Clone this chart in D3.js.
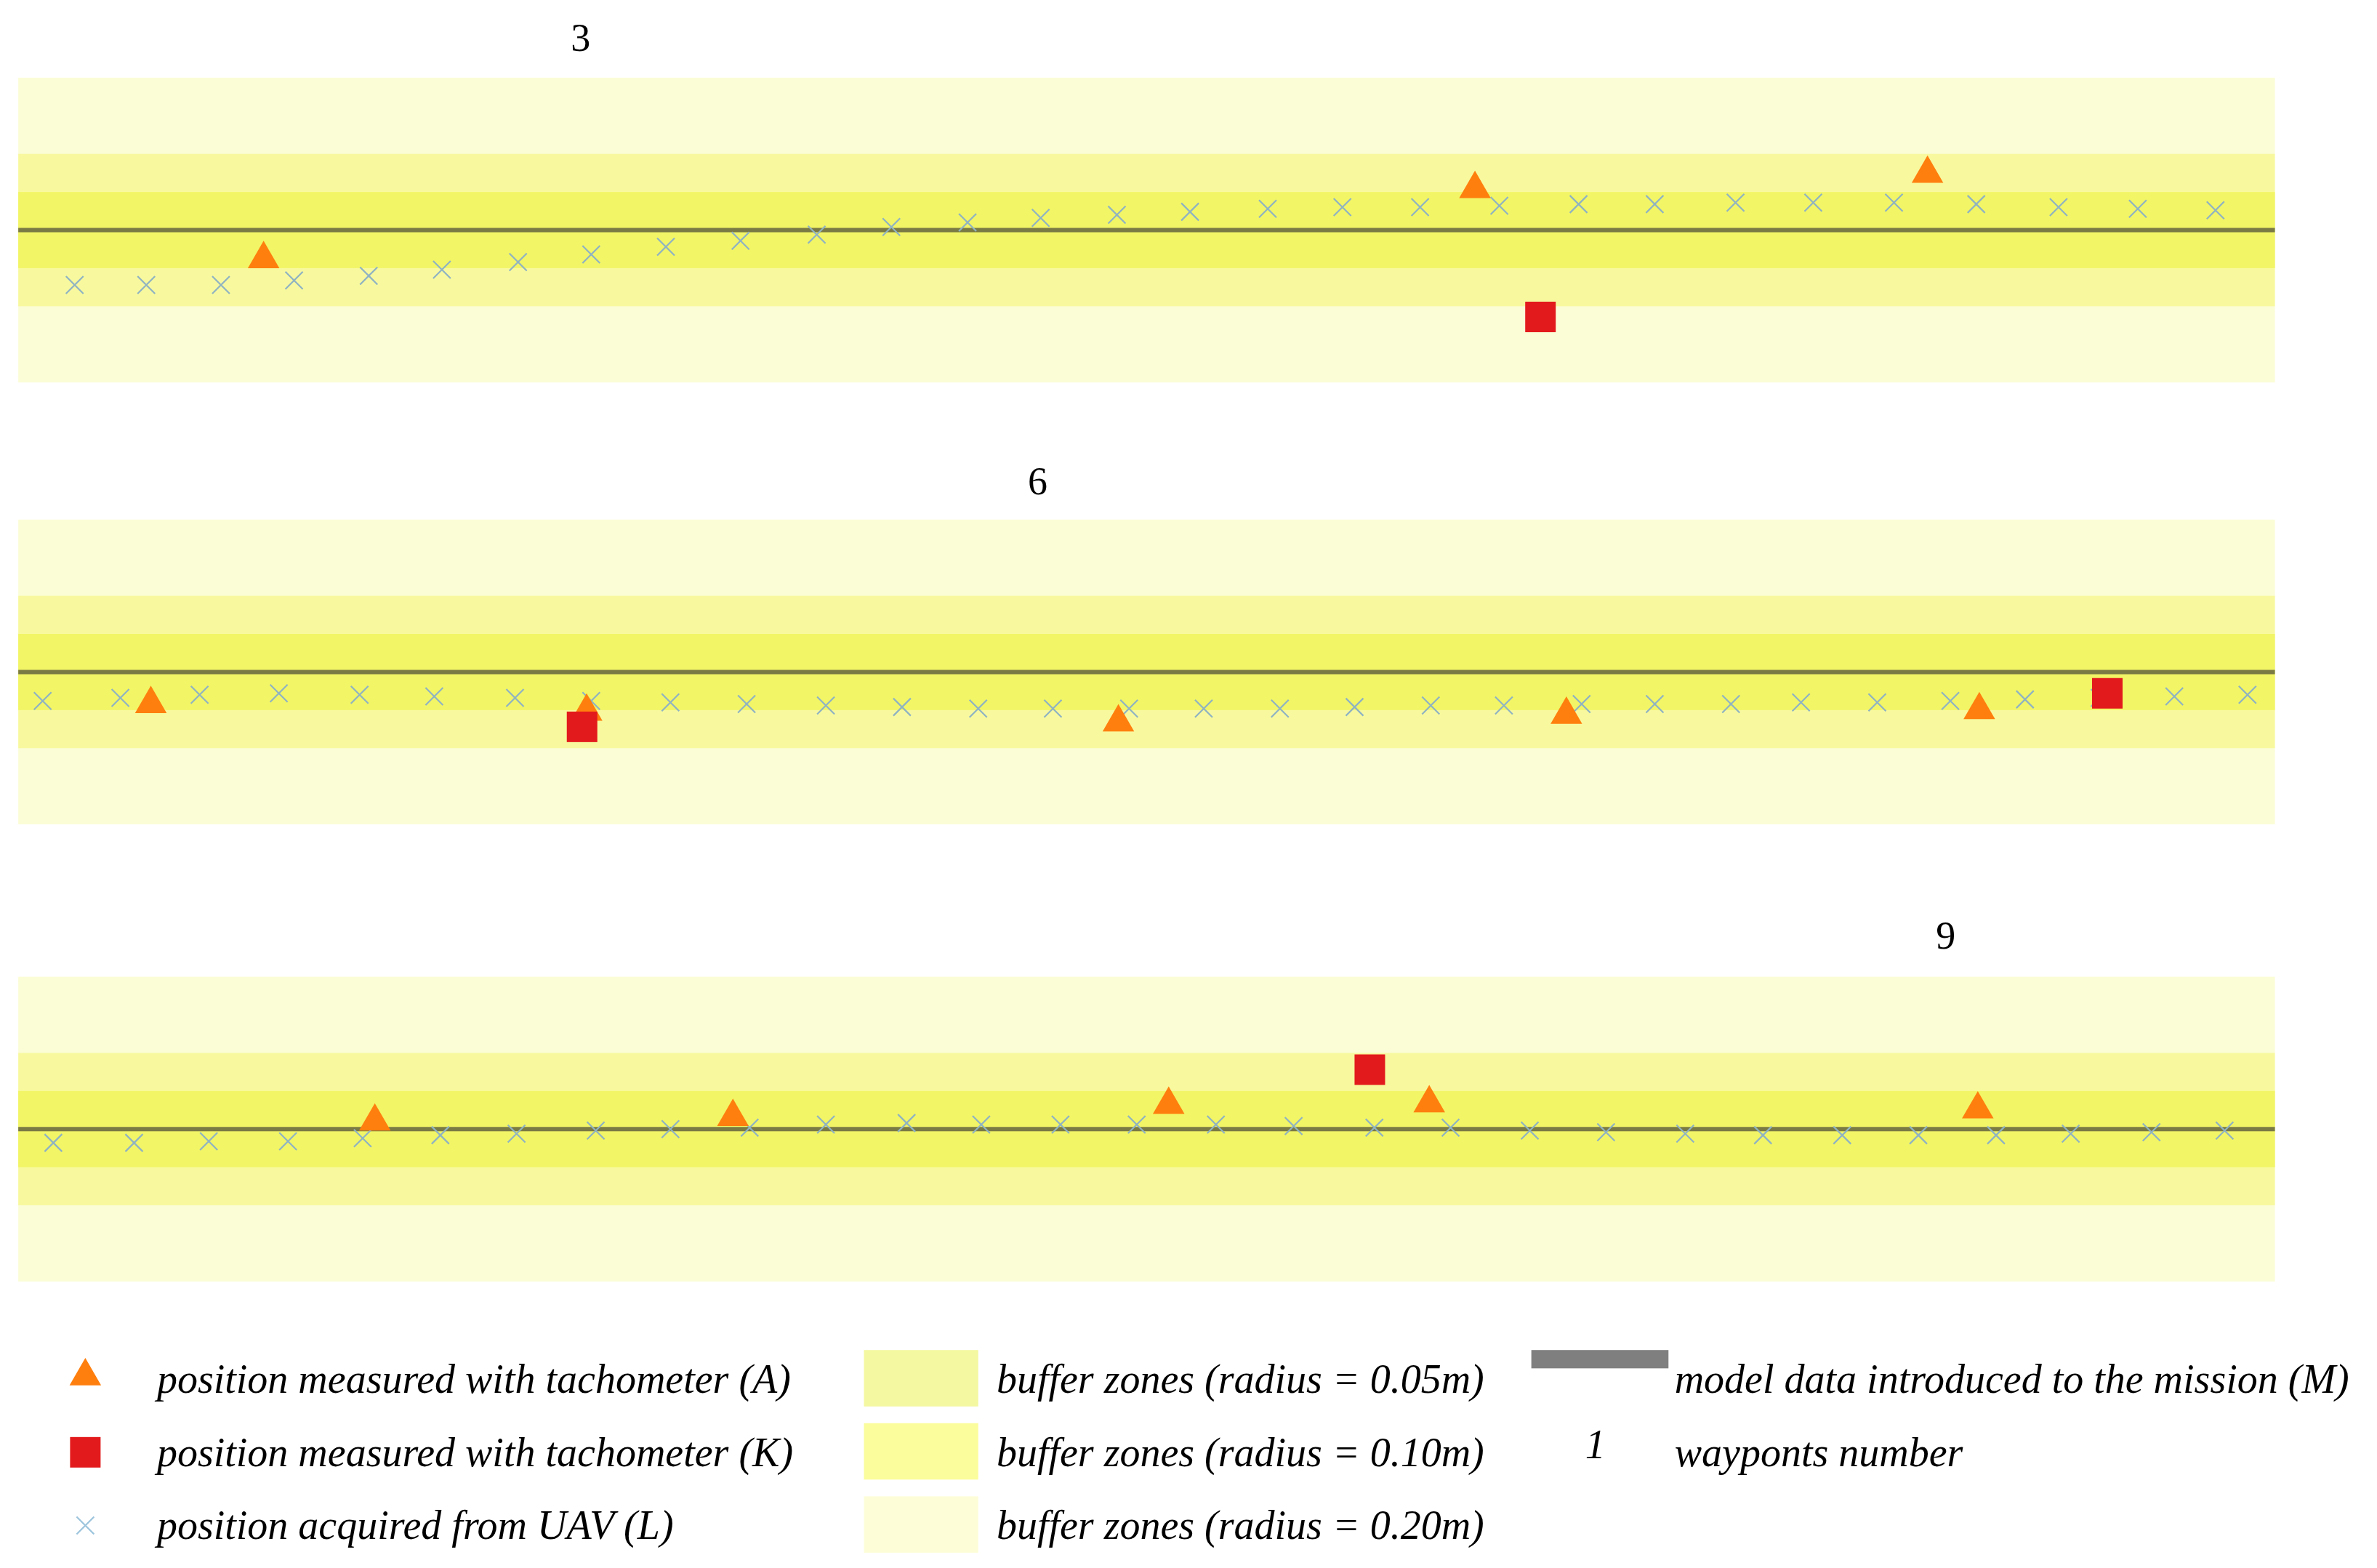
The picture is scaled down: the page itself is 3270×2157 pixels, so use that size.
<!DOCTYPE html><html><head><meta charset="utf-8">
<script src="https://cdn.jsdelivr.net/npm/d3@7"></script>
<style>body{margin:0;background:#fff}</style></head><body>
<svg id="c" width="3270" height="2157"></svg>
<script>
const waypointLabels=["3","6","9"];
const bufferRadii=[0.20,0.10,0.05];
const bufferColors=["#fbfdd6","#f8f99f","#f2f566"];
const legendSwatch=["#f4f8a0","#fbfd9c","#fdfed8"];
// distance along path (units), offset from model line (mm)
const uavX1=[37,84,133,181,230,278,328,376,425,474,524,573,623,671,721,769,820,869,920,972,1024,1074,1127,1178,1231,1285,1339,1391,1442];
const uavY1=[-72,-72,-72,-66,-60,-52,-42,-32,-22,-14,-6,4,10,16,20,24,28,30,30,32,34,34,36,36,36,34,30,28,26];
const triX1=[161,956,1253], triY1=[-38,54,74];
const sqX1=[999], sqY1=[-114];
const uavX2=[16,67,119,171,224,273,326,376,428,478,530,580,630,679,729,778,828,877,927,975,1026,1074,1124,1170,1220,1268,1317,1366,1415,1463];
const uavY2=[-38,-34,-30,-28,-30,-32,-34,-38,-40,-42,-44,-46,-48,-48,-48,-48,-48,-46,-44,-44,-42,-42,-42,-40,-40,-38,-36,-34,-32,-30];
const triX2=[87,373,722,1016,1287], triY2=[-42,-52,-66,-56,-50];
const sqX2=[370,1371], sqY2=[-72,-28];
const uavX3=[23,76,125,177,226,277,327,379,428,480,530,583,632,684,734,786,837,890,940,992,1042,1094,1145,1197,1247,1298,1347,1400,1448];
const uavY3=[-18,-18,-16,-16,-12,-8,-6,-2,0,2,6,8,6,6,6,6,4,2,2,-2,-4,-6,-8,-8,-8,-8,-6,-4,-2];
const triX3=[234,469,755,926,1286], triY3=[10,16,32,34,26];
const sqX3=[887], sqY3=[78];
const labelX=[369,669,1265];
const legendLeft=["position measured with tachometer (A)","position measured with tachometer (K)","position acquired from UAV (L)"];
const legendMid=["buffer zones (radius = 0.05m)","buffer zones (radius = 0.10m)","buffer zones (radius = 0.20m)"];
const legendRight=["model data introduced to the mission (M)","wayponts number"];

const k=3270/1560;
const svg=d3.select("#c");
const x=d3.scaleLinear().domain([0,1481]).range([12*k,1493*k]);
const panels=[
 {c:151,ux:uavX1,uy:uavY1,tx:triX1,ty:triY1,sx:sqX1,sy:sqY1,ly:25},
 {c:441,ux:uavX2,uy:uavY2,tx:triX2,ty:triY2,sx:sqX2,sy:sqY2,ly:316},
 {c:741,ux:uavX3,uy:uavY3,tx:triX3,ty:triY3,sx:sqX3,sy:sqY3,ly:614}];
const tri=d3.symbol(d3.symbolTriangle,820);
panels.forEach((p,i)=>{
 const y=d3.scaleLinear().domain([-204,204]).range([(p.c+102)*k,(p.c-102)*k]);
 const g=svg.append("g");
 bufferRadii.forEach((r,j)=>{
  g.append("rect").attr("x",x(0)).attr("width",x(1481)-x(0))
   .attr("y",y(r*1000)).attr("height",y(-r*1000)-y(r*1000)).attr("fill",bufferColors[j]);
 });
 g.append("line").attr("x1",x(0)).attr("x2",x(1481)).attr("y1",y(0)).attr("y2",y(0))
  .attr("stroke","#7a7a45").attr("stroke-width",6);
 const cs=12;
 p.ux.forEach((v,j)=>{
  const cx=x(v),cy=y(p.uy[j]);
  g.append("path").attr("d",`M${cx-cs},${cy-cs}L${cx+cs},${cy+cs}M${cx-cs},${cy+cs}L${cx+cs},${cy-cs}`)
   .attr("stroke","#8fb3c2").attr("stroke-width",2.2).attr("fill","none");
 });
 p.tx.forEach((v,j)=>g.append("path").attr("d",tri).attr("transform",`translate(${x(v)},${y(p.ty[j])})`).attr("fill","#ff7f0e"));
 p.sx.forEach((v,j)=>g.append("rect").attr("x",x(v)-21).attr("y",y(p.sy[j])-21).attr("width",42).attr("height",42).attr("fill","#e31a1c"));
 svg.append("text").attr("x",x(labelX[i])).attr("y",p.ly*k+18).attr("text-anchor","middle")
  .attr("font-family","Liberation Serif").attr("font-size",54).text(waypointLabels[i]);
});
// legend
const rows=[907,955,1003].map(v=>v*k);
const tf=t=>t.attr("font-family","Liberation Serif").attr("font-style","italic").attr("font-size",56);
legendLeft.forEach((t,i)=>tf(svg.append("text").attr("x",103*k).attr("y",rows[i]+15)).text(t));
svg.append("path").attr("d",tri).attr("transform",`translate(${56*k},${rows[0]-8})`).attr("fill","#ff7f0e");
svg.append("rect").attr("x",56*k-21).attr("y",rows[1]-25).attr("width",42).attr("height",42).attr("fill","#e31a1c");
{const cx=56*k,cy=rows[2]-4,cs=12;
svg.append("path").attr("d",`M${cx-cs},${cy-cs}L${cx+cs},${cy+cs}M${cx-cs},${cy+cs}L${cx+cs},${cy-cs}`).attr("stroke","#9cc4dc").attr("stroke-width",2.2);}
legendSwatch.forEach((c,i)=>{
 svg.append("rect").attr("x",567*k).attr("width",75*k).attr("y",rows[i]-21*k).attr("height",37*k).attr("fill",c);
 tf(svg.append("text").attr("x",654*k).attr("y",rows[i]+15)).text(legendMid[i]);
});
svg.append("rect").attr("x",1005*k).attr("width",90*k).attr("y",886*k).attr("height",12*k).attr("fill","#7f7f7f");
tf(svg.append("text").attr("x",1099*k).attr("y",rows[0]+15)).text(legendRight[0]);
tf(svg.append("text").attr("x",1047*k).attr("y",rows[1]+4).attr("text-anchor","middle")).text("1");
tf(svg.append("text").attr("x",1099*k).attr("y",rows[1]+15)).text(legendRight[1]);
</script></body></html>
